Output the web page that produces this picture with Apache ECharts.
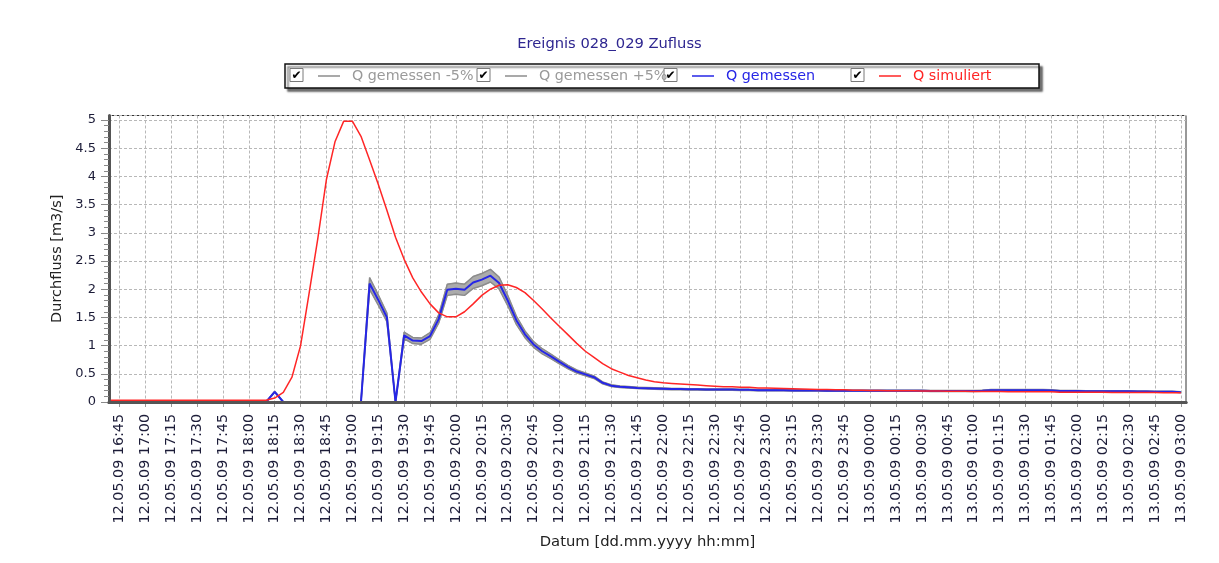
<!DOCTYPE html>
<html>
<head>
<meta charset="utf-8">
<script src="https://cdn.jsdelivr.net/npm/echarts@6/dist/echarts.min.js"></script>
<style>
  html, body { margin: 0; padding: 0; background: #fff; }
  #chart { width: 1219px; height: 563px; }
</style>
</head>
<body>
<div id="chart"></div>
<script>
// Time base: minutes since 12.05.09 00:00, one value every 5 minutes from 16:40
const START_MIN = 16 * 60 + 40;
const STEP_MIN = 5;

// Axis range and labelled ticks (every 15 min, 16:45 .. 03:00 next day)
const AXIS_MIN = 16 * 60 + 39;
const AXIS_MAX = 24 * 60 + 3 * 60 + 3;
const FIRST_TICK = 16 * 60 + 45;
const LAST_TICK = 24 * 60 + 3 * 60;
const TICK_STEP = 15;

const TITLE = 'Ereignis 028_029 Zufluss';
const SERIES_NAMES = ['Q gemessen -5%', 'Q gemessen +5%', 'Q gemessen', 'Q simuliert'];

// Q simuliert [m3/s], 16:40 .. 03:00
const qSimuliert = [
  0.03, 0.03, 0.03, 0.03, 0.03, 0.03, 0.03, 0.03, 0.03, 0.03, 0.03, 0.03, 0.03, 0.03, 0.03, 0.03, 0.03, 0.03, 0.03,
  0.07, 0.17, 0.44, 1.0, 1.94, 2.9, 3.95, 4.62, 4.98, 4.98,
  4.71, 4.29, 3.86, 3.4, 2.92, 2.53, 2.2, 1.95, 1.74, 1.58, 1.51,
  1.51, 1.6, 1.74, 1.89, 2.0, 2.07, 2.08, 2.03, 1.94, 1.8, 1.65, 1.49,
  1.34, 1.19, 1.04, 0.9, 0.79, 0.68, 0.59, 0.53, 0.47, 0.43, 0.39, 0.36,
  0.34, 0.33, 0.32, 0.31, 0.3, 0.29, 0.28, 0.27, 0.27, 0.26, 0.26, 0.25,
  0.25, 0.245, 0.24, 0.235, 0.23, 0.225, 0.22, 0.22, 0.215, 0.215, 0.21, 0.21,
  0.205, 0.205, 0.2, 0.2, 0.2, 0.2, 0.195, 0.195, 0.195, 0.19, 0.19, 0.19,
  0.185, 0.185, 0.185, 0.185, 0.18, 0.18, 0.18, 0.18, 0.18, 0.18, 0.175, 0.175,
  0.175, 0.175, 0.175, 0.175, 0.17, 0.17, 0.17, 0.17, 0.17, 0.17, 0.165, 0.165,
  0.165
];

// Q gemessen [m3/s], 16:40 .. 03:00
const qGemessen = [
  0, 0, 0, 0, 0, 0, 0, 0, 0, 0, 0, 0, 0, 0, 0, 0, 0, 0, 0,
  0.18,
  0, 0, 0, 0, 0, 0, 0, 0, 0, 0,
  2.1, 1.81, 1.5, 0, 1.18, 1.09, 1.08, 1.17, 1.47, 1.99,
  2.01, 1.99, 2.12, 2.17, 2.24, 2.11, 1.8, 1.45, 1.2, 1.02, 0.9, 0.81,
  0.71, 0.62, 0.54, 0.49, 0.44, 0.34, 0.29, 0.27, 0.26, 0.25, 0.245, 0.24,
  0.235, 0.23, 0.23, 0.225, 0.225, 0.22, 0.22, 0.22, 0.22, 0.215, 0.215, 0.21,
  0.21, 0.21, 0.21, 0.205, 0.205, 0.205, 0.205, 0.2, 0.2, 0.2, 0.2, 0.2,
  0.2, 0.2, 0.2, 0.2, 0.2, 0.2, 0.2, 0.195, 0.195, 0.195, 0.195, 0.195,
  0.195, 0.2, 0.21, 0.21, 0.21, 0.21, 0.21, 0.21, 0.21, 0.205, 0.195, 0.195,
  0.195, 0.19, 0.19, 0.19, 0.19, 0.19, 0.19, 0.185, 0.185, 0.18, 0.18, 0.18,
  0.175
];

// +/- 5 % envelope of the measured discharge
const qMinus5 = qGemessen.map(v => v * 0.95);
const qPlus5 = qGemessen.map(v => v * 1.05);

const COLORS = { band: '#8c8c8c', bandFill: '#ababab', blue: '#2626e6', red: '#ff2626' };
const LEGEND_TEXT = ['#9a9a9a', '#9a9a9a', '#2626e6', '#ff2626'];
const LEGEND_ICON = ['#8c8c8c', '#8c8c8c', '#2626e6', '#ff2626'];
const FONT = 'DejaVu Sans';
const LABEL_COLOR = '#1c1c38';

const pad = n => (n < 10 ? '0' : '') + n;
function fmtTime(m) {
  m = Math.round(m);
  const day = m >= 1440 ? '13.05.09' : '12.05.09';
  const mm = m % 1440;
  return day + ' ' + pad(Math.floor(mm / 60)) + ':' + pad(mm % 60);
}
const timeAt = i => START_MIN + i * STEP_MIN;
const pairs = arr => arr.map((v, i) => [timeAt(i), v]);

const tickValues = [];
for (let t = FIRST_TICK; t <= LAST_TICK; t += TICK_STEP) tickValues.push(t);

const chart = echarts.init(document.getElementById('chart'), null, { renderer: 'canvas' });

const gridL = 109, gridR = 33, gridB = 161;
const lineCommon = { type: 'line', xAxisIndex: 0, yAxisIndex: 0, showSymbol: false, symbol: 'none', silent: true, animation: false };

// legend frame with check boxes
const LEGEND_X0 = 313, LEGEND_STRIDE = 187;
const graphic = [{
  type: 'rect', z: 0,
  shape: { x: 285, y: 64, width: 754, height: 24 },
  style: { fill: '#fff', stroke: '#111', lineWidth: 1.5, shadowColor: 'rgba(0,0,0,0.55)', shadowOffsetX: 3, shadowOffsetY: 3, shadowBlur: 2 }
}];
SERIES_NAMES.forEach((n, i) => {
  const x = LEGEND_X0 - 23 + i * LEGEND_STRIDE;
  graphic.push({ type: 'rect', z: 1, shape: { x: x, y: 68.5, width: 13, height: 13 }, style: { fill: '#fff', stroke: '#7a7a7a', lineWidth: 1 } });
  graphic.push({ type: 'text', z: 2, x: x + 6.5, y: 75.5, style: { text: '\u2714', fill: '#000', font: 'bold 12px "DejaVu Sans"', align: 'center', verticalAlign: 'middle' } });
});

const legends = SERIES_NAMES.map((n, i) => ({
  left: LEGEND_X0 + i * LEGEND_STRIDE, top: 64,
  icon: 'rect', itemWidth: 22, itemHeight: 1.5,
  selectedMode: false,
  textStyle: { fontFamily: FONT, fontSize: 14.3, color: LEGEND_TEXT[i], padding: [0, 0, 0, 7] },
  data: [{ name: n, itemStyle: { color: LEGEND_ICON[i] } }]
}));

const dashed = { show: true, lineStyle: { color: '#b8b8b8', type: [3, 2], width: 1 } };

// shaded area between the -5 % and +5 % curves
function renderBand(params, api) {
  const upper = qPlus5.map((v, i) => api.coord([timeAt(i), v]));
  const lower = qMinus5.map((v, i) => api.coord([timeAt(i), v])).reverse();
  return {
    type: 'polygon',
    shape: { points: upper.concat(lower) },
    style: { fill: COLORS.bandFill, stroke: COLORS.bandFill, lineWidth: 1 }
  };
}

chart.setOption({
  animation: false,
  backgroundColor: '#fff',
  title: {
    text: TITLE, left: 'center', top: 32,
    textStyle: { fontFamily: FONT, fontSize: 14.7, fontWeight: 'normal', color: '#2e2690' }
  },
  legend: legends,
  graphic: graphic,
  grid: [
    { left: gridL, right: gridR, top: 115.5, bottom: gridB, show: true, borderColor: '#333', borderWidth: 1, backgroundColor: '#fff' },
    { left: gridL, right: gridR, top: 120, bottom: gridB, show: false }
  ],
  xAxis: [
    {
      gridIndex: 0, type: 'value', position: 'bottom', min: AXIS_MIN, max: AXIS_MAX,
      name: 'Datum [dd.mm.yyyy hh:mm]', nameLocation: 'middle', nameGap: 133,
      nameTextStyle: { fontFamily: FONT, fontSize: 14.8, color: '#222' },
      axisLine: { show: true, onZero: false, lineStyle: { color: '#555', width: 3 } },
      axisTick: { show: true, customValues: tickValues, length: 5, lineStyle: { color: '#999' } },
      axisLabel: {
        customValues: tickValues, rotate: 90, margin: 12,
        fontFamily: FONT, fontSize: 14.3, color: LABEL_COLOR,
        formatter: v => fmtTime(v)
      },
      splitLine: dashed
    },
    {
      // bottom frame line drawn above the curves
      gridIndex: 0, type: 'value', position: 'bottom', min: AXIS_MIN, max: AXIS_MAX, z: 5,
      axisLine: { show: true, onZero: false, lineStyle: { color: '#555', width: 3 } },
      axisTick: { show: false }, axisLabel: { show: false }, splitLine: { show: false }
    },
    { gridIndex: 1, type: 'value', min: 0, max: 1, show: false }
  ],
  yAxis: [
    {
      gridIndex: 0, type: 'value', min: 0, max: 5.08, interval: 0.5,
      name: 'Durchfluss [m3/s]', nameLocation: 'middle', nameGap: 44,
      nameTextStyle: { fontFamily: FONT, fontSize: 14.5, color: '#222' },
      axisLine: { show: true, onZero: false, lineStyle: { color: '#555', width: 3 } },
      axisTick: { show: false }, axisLabel: { show: false },
      splitLine: dashed
    },
    {
      gridIndex: 1, type: 'value', min: 0, max: 5, interval: 0.5,
      axisLine: { show: false },
      axisTick: { show: true, length: 8, lineStyle: { color: '#8a8a8a' } },
      minorTick: { show: true, splitNumber: 5, length: 5, lineStyle: { color: '#8a8a8a' } },
      axisLabel: { fontFamily: FONT, fontSize: 13, color: LABEL_COLOR, margin: 13 },
      splitLine: { show: false }
    }
  ],
  series: [
    {
      type: 'custom', name: 'band', xAxisIndex: 0, yAxisIndex: 0, z: 1, silent: true,
      clip: true, renderItem: renderBand, data: [[START_MIN, 0]]
    },
    Object.assign({}, lineCommon, {
      name: SERIES_NAMES[0], data: pairs(qMinus5), z: 2,
      itemStyle: { color: COLORS.band }, lineStyle: { color: COLORS.band, width: 1.5 }
    }),
    Object.assign({}, lineCommon, {
      name: SERIES_NAMES[1], data: pairs(qPlus5), z: 2,
      itemStyle: { color: COLORS.band }, lineStyle: { color: COLORS.band, width: 1.5 }
    }),
    Object.assign({}, lineCommon, {
      name: SERIES_NAMES[2], data: pairs(qGemessen), z: 2,
      itemStyle: { color: COLORS.blue }, lineStyle: { color: COLORS.blue, width: 2 }
    }),
    Object.assign({}, lineCommon, {
      name: SERIES_NAMES[3], data: pairs(qSimuliert), z: 2,
      itemStyle: { color: COLORS.red }, lineStyle: { color: COLORS.red, width: 1.5 }
    })
  ]
});
</script>
</body>
</html>
